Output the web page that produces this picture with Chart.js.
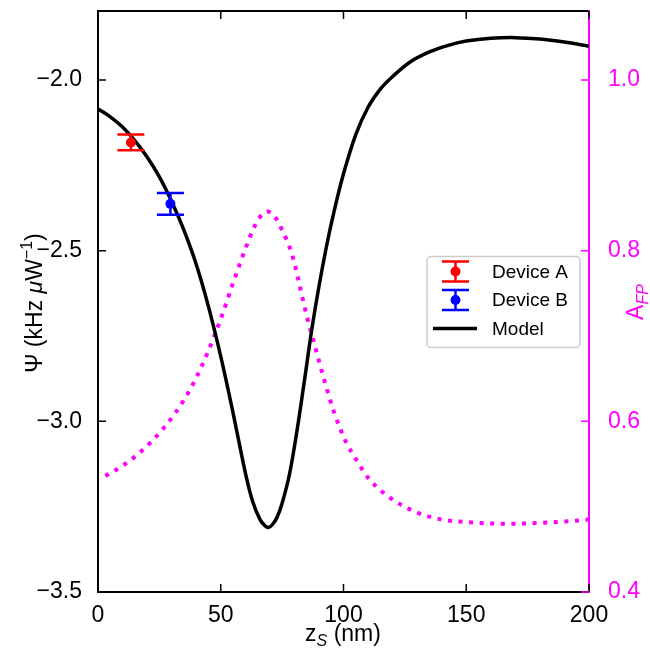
<!DOCTYPE html>
<html>
<head>
<meta charset="utf-8">
<script src="https://cdn.jsdelivr.net/npm/chart.js@4/dist/chart.umd.min.js"></script>
<style>
  html, body { margin: 0; padding: 0; background: #fff; }
  #wrap { width: 650px; height: 649px; position: relative; }
</style>
</head>
<body>
<div id="wrap"><canvas id="chart"></canvas></div>
<script>
/* ========= DATA ========= */
// model curve, Psi (kHz/uW) vs z_s (nm)
const zModel   = [0, 5, 10, 15, 20, 25, 30, 35, 40, 45, 50, 55, 60, 63, 66, 68, 69.4, 71, 73, 75, 78, 81, 84, 87, 90, 93, 96, 100, 105, 110, 115, 120, 127, 135, 143, 150, 160, 170, 180, 190, 200];
const psiModel = [-2.085, -2.108, -2.138, -2.178, -2.226, -2.284, -2.356, -2.440, -2.540, -2.664, -2.810, -2.975, -3.15, -3.235, -3.288, -3.306, -3.311, -3.303, -3.28, -3.24, -3.155, -3.03, -2.885, -2.735, -2.605, -2.49, -2.39, -2.275, -2.16, -2.08, -2.027, -1.99, -1.948, -1.918, -1.898, -1.886, -1.878, -1.876, -1.880, -1.889, -1.901];

// A_FP curve (right axis)
const zAfp = [3, 10, 18, 27, 35, 40, 45, 50, 55, 60, 64, 67, 69, 72, 75, 79, 82, 85, 88, 92, 96, 101, 105, 110, 116, 123, 131, 140, 150, 165, 180, 192, 200];
const afp  = [0.536, 0.548, 0.566, 0.593, 0.625, 0.651, 0.683, 0.72, 0.762, 0.802, 0.830, 0.843, 0.846, 0.840, 0.824, 0.796, 0.761, 0.724, 0.692, 0.650, 0.612, 0.576, 0.556, 0.534, 0.517, 0.503, 0.492, 0.485, 0.482, 0.480, 0.481, 0.483, 0.485];

// measured devices
const devLabels = ["Device A", "Device B"];
const devZ      = [13.4, 29.5];
const devPsi    = [-2.183, -2.363];
const devErr    = [0.023, 0.032];
const devColors = ["#ff0000", "#0000ff"];

const xTicks   = [0, 50, 100, 150, 200];
const psiTicks = [-3.5, -3.0, -2.5, -2.0];
const afpTicks = [0.4, 0.6, 0.8, 1.0];

/* ========= STYLE ========= */
const MAGENTA = "#ff00ff";
const FONT = "'Liberation Sans', Arial, Helvetica, sans-serif";
const TICK_PX = 23;
const TICK_LEN = 8;
Chart.defaults.font.family = FONT;

const fmt = v => (v < 0 ? "\u2212" : "") + Math.abs(v).toFixed(1);
const setTicks = list => scale => { scale.ticks = list.map(v => ({ value: v })); };
const setSize = (prop, size) => scale => {
  scale[prop] = size;
  scale.paddingTop = scale.paddingBottom = scale.paddingLeft = scale.paddingRight = 0;
};

/* ========= PLUGINS ========= */
// vertical error bars with caps, drawn through the scales
const errorBars = {
  id: "errorBars",
  afterDatasetDraw(chart, args) {
    const i = args.index;
    if (i >= devZ.length) return;
    const { ctx, scales: { x, y } } = chart;
    const px  = x.getPixelForValue(devZ[i]);
    const top = y.getPixelForValue(devPsi[i] + devErr[i]);
    const bot = y.getPixelForValue(devPsi[i] - devErr[i]);
    ctx.save();
    ctx.strokeStyle = devColors[i];
    ctx.lineWidth = 2.5;
    ctx.beginPath();
    ctx.moveTo(px, top); ctx.lineTo(px, bot);
    ctx.moveTo(px - 13.5, top); ctx.lineTo(px + 13.5, top);
    ctx.moveTo(px - 13.5, bot); ctx.lineTo(px + 13.5, bot);
    ctx.stroke();
    ctx.restore();
  }
};

// inward tick marks on all four sides
const inTicks = {
  id: "inTicks",
  afterDraw(chart) {
    const { ctx, chartArea: a, scales } = chart;
    ctx.save();
    ctx.lineWidth = 1.5;
    ctx.strokeStyle = "#000";
    ctx.beginPath();
    xTicks.forEach(v => {
      const p = scales.x.getPixelForValue(v);
      ctx.moveTo(p, a.bottom); ctx.lineTo(p, a.bottom - TICK_LEN);
      ctx.moveTo(p, a.top); ctx.lineTo(p, a.top + TICK_LEN);
    });
    psiTicks.forEach(v => {
      const p = scales.y.getPixelForValue(v);
      ctx.moveTo(a.left, p); ctx.lineTo(a.left + TICK_LEN, p);
    });
    ctx.stroke();
    ctx.strokeStyle = MAGENTA;
    ctx.beginPath();
    afpTicks.forEach(v => {
      const p = scales.y2.getPixelForValue(v);
      ctx.moveTo(a.right, p); ctx.lineTo(a.right - TICK_LEN, p);
    });
    ctx.stroke();
    ctx.restore();
  }
};

function richText(ctx, parts, cx, cy, angle, color) {
  ctx.save();
  ctx.translate(cx, cy);
  ctx.rotate(angle);
  ctx.fillStyle = color;
  ctx.textBaseline = "alphabetic";
  ctx.textAlign = "left";
  const fontOf = p => (p.italic ? "italic " : "") + p.size + "px " + FONT;
  let total = 0;
  parts.forEach(p => { ctx.font = fontOf(p); p.w = ctx.measureText(p.t).width; total += p.w; });
  let x = -total / 2;
  parts.forEach(p => { ctx.font = fontOf(p); ctx.fillText(p.t, x, p.dy || 0); x += p.w; });
  ctx.restore();
}

// axis titles with sub/superscripts
const axisTitles = {
  id: "axisTitles",
  afterDraw(chart) {
    const ctx = chart.ctx;
    richText(ctx, [
      { t: "\u03A8 (kHz ", size: 23 },
      { t: "\u03BC", size: 23, italic: true },
      { t: "W", size: 23 },
      { t: "\u22121", size: 16, dy: -10 },
      { t: ")", size: 23 }
    ], 42, 303, -Math.PI / 2, "#000");
    richText(ctx, [
      { t: "z", size: 23 },
      { t: "S", size: 16, italic: true, dy: 5 },
      { t: " (nm)", size: 23 }
    ], 343, 641, 0, "#000");
    richText(ctx, [
      { t: "A", size: 23 },
      { t: "FP", size: 16, italic: true, dy: 5 }
    ], 643, 302, -Math.PI / 2, MAGENTA);
  }
};

// legend box inside the plot
const legendBox = {
  id: "legendBox",
  afterDraw(chart) {
    const ctx = chart.ctx;
    ctx.save();
    ctx.beginPath();
    ctx.roundRect(427, 256.5, 153, 91, 4);
    ctx.fillStyle = "rgba(255,255,255,0.8)";
    ctx.fill();
    ctx.strokeStyle = "#cccccc";
    ctx.lineWidth = 1.5;
    ctx.stroke();

    const rows = [271.5, 300, 328.5];
    ctx.font = "19px " + FONT;
    ctx.textBaseline = "middle";
    ctx.textAlign = "left";
    devLabels.forEach((lab, i) => {
      const cx = 455.5, cy = rows[i];
      ctx.strokeStyle = devColors[i];
      ctx.fillStyle = devColors[i];
      ctx.lineWidth = 2.5;
      ctx.beginPath();
      ctx.moveTo(cx, cy - 10); ctx.lineTo(cx, cy + 10);
      ctx.moveTo(cx - 13.5, cy - 10); ctx.lineTo(cx + 13.5, cy - 10);
      ctx.moveTo(cx - 13.5, cy + 10); ctx.lineTo(cx + 13.5, cy + 10);
      ctx.stroke();
      ctx.beginPath();
      ctx.arc(cx, cy, 5, 0, Math.PI * 2);
      ctx.fill();
      ctx.fillStyle = "#000";
      ctx.fillText(lab, 492, cy + 1);
    });
    ctx.strokeStyle = "#000";
    ctx.lineWidth = 3.5;
    ctx.beginPath();
    ctx.moveTo(433, rows[2]); ctx.lineTo(477, rows[2]);
    ctx.stroke();
    ctx.fillStyle = "#000";
    ctx.fillText(chart.data.datasets[2].label, 492, rows[2] + 1);
    ctx.restore();
  }
};

/* ========= CHART ========= */
const toXY = (xs, ys) => xs.map((v, i) => ({ x: v, y: ys[i] }));

const ctx = document.getElementById("chart").getContext("2d");
new Chart(ctx, {
  type: "line",
  data: {
    datasets: [
      {
        label: devLabels[0],
        data: [{ x: devZ[0], y: devPsi[0] }],
        showLine: false,
        pointRadius: 5,
        pointBackgroundColor: devColors[0],
        pointBorderWidth: 0,
        yAxisID: "y"
      },
      {
        label: devLabels[1],
        data: [{ x: devZ[1], y: devPsi[1] }],
        showLine: false,
        pointRadius: 5,
        pointBackgroundColor: devColors[1],
        pointBorderWidth: 0,
        yAxisID: "y"
      },
      {
        label: "Model",
        data: toXY(zModel, psiModel),
        borderColor: "#000",
        borderWidth: 3.5,
        pointRadius: 0,
        tension: 0.35,
        yAxisID: "y"
      },
      {
        label: "A_FP",
        data: toXY(zAfp, afp),
        borderColor: MAGENTA,
        borderWidth: 4,
        borderDash: [4, 6.6],
        borderCapStyle: "butt",
        pointRadius: 0,
        cubicInterpolationMode: "monotone",
        yAxisID: "y2"
      }
    ]
  },
  options: {
    responsive: true,
    maintainAspectRatio: false,
    animation: false,
    events: [],
    layout: { padding: 0 },
    plugins: { legend: { display: false }, tooltip: { enabled: false } },
    scales: {
      x: {
        type: "linear", position: "bottom", min: 0, max: 200,
        afterBuildTicks: setTicks(xTicks),
        afterFit: setSize("height", 57),
        ticks: { color: "#000", font: { size: TICK_PX }, padding: 2, maxRotation: 0, autoSkip: false, callback: v => String(v) },
        grid: { display: false },
        border: { display: true, color: "#000", width: 2 }
      },
      x2: {
        type: "linear", axis: "x", position: "top", min: 0, max: 200,
        afterBuildTicks: setTicks(xTicks),
        afterFit: setSize("height", 11),
        ticks: { display: false },
        grid: { display: false },
        border: { display: true, color: "#000", width: 2 }
      },
      y: {
        type: "linear", position: "left", min: -3.5, max: -1.798,
        afterBuildTicks: setTicks(psiTicks),
        afterFit: setSize("width", 98),
        ticks: { color: "#000", font: { size: TICK_PX }, padding: 8, callback: fmt },
        grid: { display: false },
        border: { display: true, color: "#000", width: 2 }
      },
      y2: {
        type: "linear", position: "right", min: 0.4, max: 1.081,
        afterBuildTicks: setTicks(afpTicks),
        afterFit: setSize("width", 61),
        ticks: { color: MAGENTA, font: { size: TICK_PX }, padding: 11, callback: fmt },
        grid: { display: false },
        border: { display: true, color: MAGENTA, width: 2 }
      }
    }
  },
  plugins: [errorBars, inTicks, axisTitles, legendBox]
});
</script>
</body>
</html>
